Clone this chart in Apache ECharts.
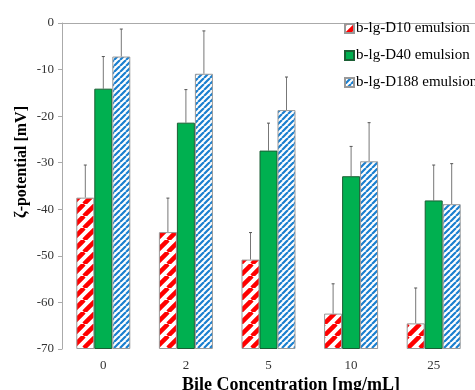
<!DOCTYPE html>
<html><head><meta charset="utf-8">
<script src="https://cdn.jsdelivr.net/npm/echarts@6/dist/echarts.min.js"></script>
<style>html,body{margin:0;padding:0;background:#fff}#c{width:475px;height:390px}</style>
</head><body><div id="c"></div>
<script>
var categories = ['0', '2', '5', '10', '25'];
var d10 = [-37.5, -44.9, -50.8, -62.4, -64.5];
var d40 = [-14.1, -21.4, -27.4, -32.9, -38.1];
var d188 = [-7.2, -10.9, -18.7, -29.7, -38.9];
var errD10 = [7.0, 7.3, 5.8, 6.4, 7.6];
var errD40 = [6.9, 7.1, 5.9, 6.4, 7.6];
var errD188 = [5.9, 9.2, 7.1, 8.3, 8.7];
var yTicks = [0, -10, -20, -30, -40, -50, -60, -70];
var seriesNames = ['b-lg-D10 emulsion', 'b-lg-D40 emulsion', 'b-lg-D188 emulsion'];

function stripes(size, lw, color) {
  var c = document.createElement('canvas');
  c.width = size; c.height = size;
  var g = c.getContext('2d');
  g.fillStyle = '#fff'; g.fillRect(0, 0, size, size);
  g.strokeStyle = color; g.lineWidth = lw;
  g.beginPath();
  for (var k = -1; k <= 1; k++) {
    g.moveTo(k * size, size); g.lineTo(k * size + size, 0);
  }
  g.stroke();
  return c;
}
var redPat = { image: stripes(12, 4.5, '#ff0000'), repeat: 'repeat' };
var bluePat = { image: stripes(6, 2.2, '#1a7fcf'), repeat: 'repeat' };

var font = 'Liberation Serif';
var chart = echarts.init(document.getElementById('c'));

function errSeries(vals, errs, offset) {
  return {
    type: 'custom',
    silent: true,
    z: 1,
    data: vals.map(function (v, i) { return [i, v, errs[i]]; }),
    renderItem: function (params, api) {
      var i = api.value(0), v = api.value(1), e = api.value(2);
      var p0 = api.coord([i, v]);
      var p1 = api.coord([i, v + e]);
      var x = p0[0] + offset;
      return {
        type: 'group',
        children: [
          { type: 'line', shape: { x1: x, y1: p0[1], x2: x, y2: p1[1] }, style: { stroke: '#777', lineWidth: 1 } },
          { type: 'line', shape: { x1: x - 1.5, y1: p1[1], x2: x + 1.5, y2: p1[1] }, style: { stroke: '#555', lineWidth: 1 } }
        ]
      };
    }
  };
}

chart.setOption({
  animation: false,
  backgroundColor: '#fff',
  grid: { left: 62, right: 0, top: 23, bottom: 41, containLabel: false, outerBoundsMode: 'none' },
  legend: {
    orient: 'vertical', left: 344, top: 21, itemGap: 12, padding: 0,
    itemWidth: 9, itemHeight: 9, icon: 'rect',
    textStyle: { fontFamily: font, fontSize: 15, color: '#000', padding: [0, 0, 0, -3] },
    data: seriesNames
  },
  xAxis: {
    type: 'category', data: categories,
    name: 'Bile Concentration [mg/mL]', nameLocation: 'middle', nameGap: 27, nameMoveOverlap: false,
    nameTextStyle: { fontFamily: font, fontSize: 18, fontWeight: 'bold', color: '#000', padding: [0, 0, 0, 45] },
    axisLine: { lineStyle: { color: '#aaa' } },
    axisTick: { length: 4, lineStyle: { color: '#aaa' } },
    axisLabel: { fontFamily: font, fontSize: 13, color: '#333', margin: 10 }
  },
  yAxis: {
    type: 'value', min: -70, max: 0, interval: 10, startValue: -70,
    name: 'ζ-potential [mV]', nameLocation: 'middle', nameGap: 32, nameMoveOverlap: false,
    nameTextStyle: { fontFamily: font, fontSize: 16, fontWeight: 'bold', color: '#000', padding: [0, 0, 0, 48] },
    splitLine: { show: false },
    axisLine: { show: true, lineStyle: { color: '#aaa' } },
    axisTick: { show: true, length: 4, lineStyle: { color: '#aaa' } },
    axisLabel: { fontFamily: font, fontSize: 13, color: '#333', margin: 8,
      formatter: function (v) { return yTicks.indexOf(v) >= 0 ? String(v) : ''; } }
  },
  series: [
    { name: seriesNames[0], type: 'bar', data: d10, barWidth: 18, barGap: '0%', z: 2,
      itemStyle: { color: redPat, borderColor: '#999', borderWidth: 1 } },
    { name: seriesNames[1], type: 'bar', data: d40, barWidth: 18, barGap: '0%', z: 2,
      itemStyle: { color: '#00b050', borderColor: '#1b5e34', borderWidth: 1 } },
    { name: seriesNames[2], type: 'bar', data: d188, barWidth: 18, barGap: '0%', z: 2,
      itemStyle: { color: bluePat, borderColor: '#999', borderWidth: 1 } },
    errSeries(d10, errD10, -18),
    errSeries(d40, errD40, 0),
    errSeries(d188, errD188, 18)
  ]
});
</script></body></html>
